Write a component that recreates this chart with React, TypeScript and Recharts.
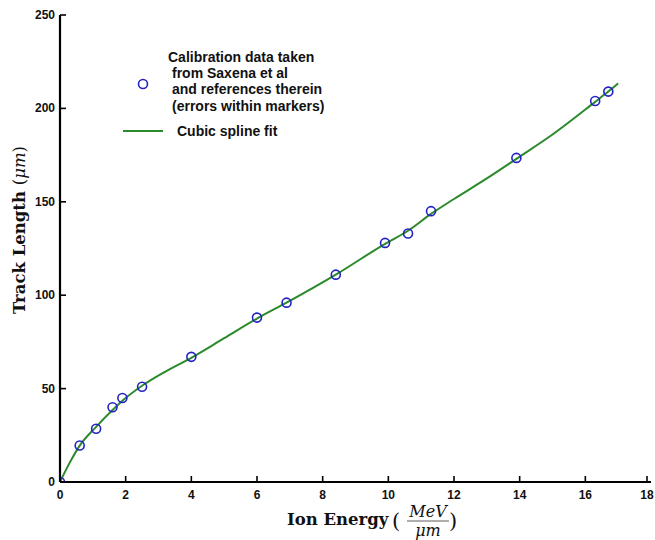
import React from "react";
import {
  ComposedChart, Line, Scatter, XAxis, YAxis, Legend, Label,
} from "recharts";

// calibration points (MeV/um, um)
const calibEnergy = [0, 0.6, 1.1, 1.6, 1.9, 2.5, 4.0, 6.0, 6.9, 8.4, 9.9, 10.6, 11.3, 13.9, 16.3, 16.7];
const calibLength = [0, 19.5, 28.5, 40, 45, 51, 67, 88, 96, 111, 128, 133, 145, 173.5, 204, 209];

// spline curve
const fitEnergy = [0, 0.3, 0.6, 1.1, 1.6, 1.9, 2.5, 3.2, 4.0, 5.0, 6.0, 6.9, 8.4, 9.9, 10.6, 11.3, 12.0, 13.0, 13.9, 15.0, 16.3, 16.7, 17.0];
const fitLength = [0, 10.5, 19.5, 29.5, 38.5, 43.5, 51.5, 59, 66.5, 77, 87.5, 96, 111, 127.5, 134.5, 143.5, 151.5, 162.5, 173, 186, 203.5, 209, 213.4];

const xTicks = [0, 2, 4, 6, 8, 10, 12, 14, 16, 18];
const yTicks = [0, 50, 100, 150, 200, 250];

const calib = calibEnergy.map((x, i) => ({ x, y: calibLength[i] }));
const fit = fitEnergy.map((x, i) => ({ x, y: fitLength[i] }));

const GREEN = "#2b8a2b";
const BLUE = "#2222c4";
const SANS = "'Liberation Sans', Arial, sans-serif";
const SERIF = "'DejaVu Serif', serif";

function XTick(props: any) {
  const { x, y, payload } = props;
  return (
    <g>
      <line x1={x} y1={y} x2={x} y2={y - 6} stroke="#000" strokeWidth={1.6} />
      <text x={x} y={y + 17} textAnchor="middle" fontFamily={SANS} fontWeight="bold" fontSize={12} fill="#111">
        {payload.value}
      </text>
    </g>
  );
}

function YTick(props: any) {
  const { x, y, payload } = props;
  return (
    <g>
      <line x1={x} y1={y} x2={x + 6} y2={y} stroke="#000" strokeWidth={1.6} />
      <text x={x - 5} y={y + 4} textAnchor="end" fontFamily={SANS} fontWeight="bold" fontSize={12} fill="#111">
        {payload.value}
      </text>
    </g>
  );
}

function XTitle(props: any) {
  const vb = props.viewBox;
  const base = vb.y + 43;
  return (
    <g fontFamily={SERIF} fill="#111">
      <text x={287} y={base} fontSize={16.5} fontWeight="bold">Ion Energy</text>
      <text x={392} y={base + 3} fontSize={21}>(</text>
      <text x={428} y={base - 8} fontSize={16} fontStyle="italic" textAnchor="middle">MeV</text>
      <line x1={407} x2={449} y1={base - 4} y2={base - 4} stroke="#333" strokeWidth={0.8} />
      <text x={428} y={base + 11} fontSize={16} fontStyle="italic" textAnchor="middle">μm</text>
      <text x={449} y={base + 3} fontSize={21}>)</text>
    </g>
  );
}

function YTitle() {
  return (
    <text transform="rotate(-90, 25, 230)" x={25} y={230} textAnchor="middle" fontFamily={SERIF} fontSize={16.5} fill="#111">
      <tspan fontWeight="bold">Track Length </tspan>
      <tspan>(</tspan>
      <tspan fontStyle="italic">μm</tspan>
      <tspan>)</tspan>
    </text>
  );
}

function LegendBox() {
  const lines = ["from Saxena et al", "and references therein", "(errors within markers)"];
  return (
    <svg width={360} height={150} style={{ display: "block" }}>
      <circle cx={143} cy={84} r={4.5} fill="none" stroke={BLUE} strokeWidth={1.6} />
      <g fontFamily={SANS} fontWeight="bold" fontSize={14} fill="#111">
        <text x={168} y={62}>Calibration data taken</text>
        {lines.map((t, i) => (
          <text key={t} x={172} y={78.2 + i * 16.2}>{t}</text>
        ))}
        <text x={177} y={136}>Cubic spline fit</text>
      </g>
      <line x1={123} x2={163} y1={131} y2={131} stroke={GREEN} strokeWidth={2} />
    </svg>
  );
}

export default function App() {
  return (
    <div style={{ position: "absolute", left: 0, top: 0, background: "#fff" }}>
      <ComposedChart width={655} height={540} margin={{ top: 15, right: 4, bottom: 0, left: 0 }}>
        <XAxis
          dataKey="x"
          type="number"
          domain={[0, 18]}
          ticks={xTicks}
          height={58}
          tickSize={0}
          tickMargin={0}
          tick={<XTick />}
          axisLine={{ stroke: "#000", strokeWidth: 2.2 }}
          tickLine={false}
          allowDataOverflow
        >
          <Label content={XTitle} />
        </XAxis>
        <YAxis
          dataKey="y"
          type="number"
          domain={[0, 250]}
          ticks={yTicks}
          width={60}
          tickSize={0}
          tickMargin={0}
          tick={<YTick />}
          axisLine={{ stroke: "#000", strokeWidth: 2.2 }}
          tickLine={false}
          allowDataOverflow
        >
          <Label content={YTitle} />
        </YAxis>
        <Legend
          verticalAlign="middle"
          layout="horizontal"
          content={LegendBox}
          wrapperStyle={{ left: 0, top: 0, width: 360, height: 150 }}
        />
        <Line
          data={fit}
          dataKey="y"
          type="monotone"
          stroke={GREEN}
          strokeWidth={2}
          dot={false}
          activeDot={false}
          isAnimationActive={false}
          legendType="none"
        />
        <Scatter
          data={calib}
          dataKey="y"
          isAnimationActive={false}
          shape={(p: any) => (
            <circle cx={p.cx} cy={p.cy} r={4.5} fill="none" stroke={BLUE} strokeWidth={1.6} />
          )}
        />
      </ComposedChart>
    </div>
  );
}
